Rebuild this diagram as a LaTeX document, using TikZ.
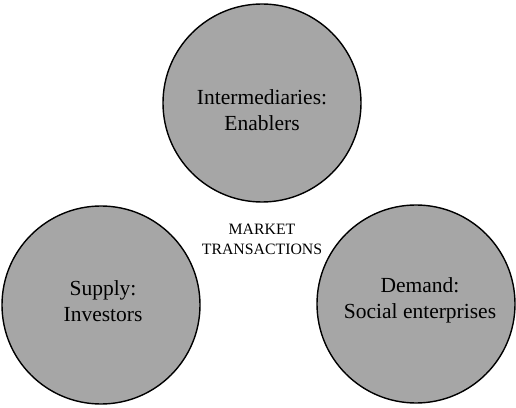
\documentclass[tikz,border=0pt]{standalone}
\usepackage{fontspec}
\setmainfont{Liberation Serif}
\tikzset{
	blob/.style={circle,draw=black,line width=1.4pt,fill=gray!70,minimum size=198pt,inner sep=0pt},
	lbl/.style={align=center,font=\fontsize{21.5}{26}\selectfont},
	mkt/.style={align=center,font=\fontsize{15.8}{20}\selectfont}
}
\begin{document}
\begin{tikzpicture}[x=1pt,y=1pt]
	\useasboundingbox (0,0) rectangle (516,407);
	% three market actors
	\node[blob] (enab) at (262,304) {};
	\node[blob] (supp) at (101,102) {};
	\node[blob] (dema) at (416,103) {};
	\node[lbl] (enabtxt) at ([yshift=-7pt]enab.center) {Intermediaries:\\Enablers};
	\node[lbl] (supptxt) at ([xshift=2pt,yshift=4pt]supp.center) {Supply:\\Investors};
	\node[lbl] (dematxt) at ([xshift=4pt,yshift=4pt]dema.center) {Demand:\\Social enterprises};
	% centre text
	\node[mkt] (trans) at (262,168) {MARKET\\TRANSACTIONS};
\end{tikzpicture}
\end{document}
